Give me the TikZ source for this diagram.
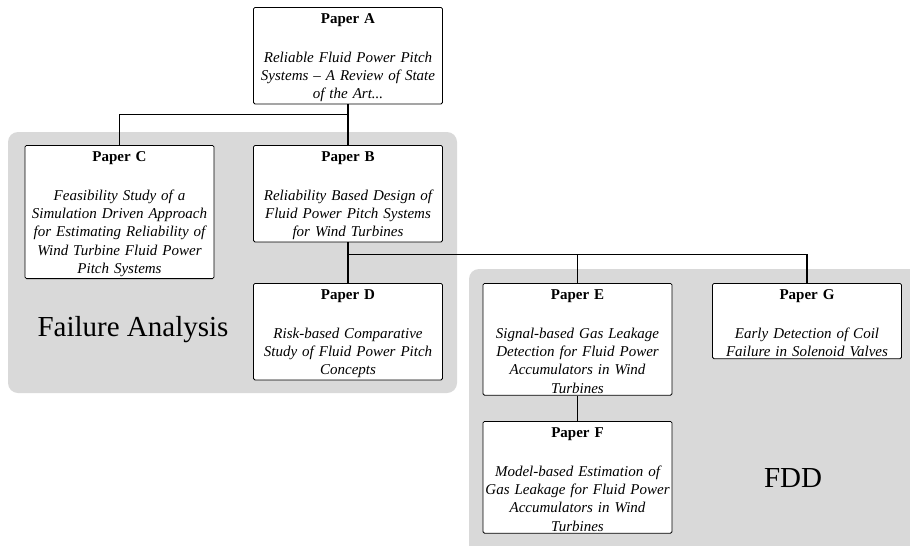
\documentclass[tikz,border=0pt]{standalone}
\usepackage{fontspec}
\setmainfont{Liberation Serif}
\begin{document}
\begin{tikzpicture}[x=1pt,y=-1pt,
   paper/.style={draw,fill=white,rounded corners=1.5pt,anchor=north,
     text width=185pt,align=center,inner xsep=2pt,inner ysep=2pt,line width=0.8pt,
     font=\fontsize{15}{18.3}\selectfont},
   group/.style={fill=gray!30,rounded corners=10pt},
   grouplabel/.style={font=\fontsize{29}{34}\selectfont},
   link/.style={line width=1.2pt}]
   \newcommand\papertitle[1]{\rule{0pt}{14.5pt}\textbf{Paper #1}\\[20pt]}
   \useasboundingbox (0,0) rectangle (910,546);
   \fill[group] (8,132) rectangle (457,393);
   \fill[group] (469,269) rectangle (925,560);
   \node[grouplabel] (fa) at (133,330) {Failure Analysis};
   \node[grouplabel] (fdd) at (793,478) {FDD};
   \node[paper] (A) at (348,7) {\papertitle{A}
     \textit{Reliable Fluid Power Pitch\\Systems -- A Review of State\\of the Art...}};
   \node[paper] (B) at (348,145) {\papertitle{B}
     \textit{Reliability Based Design of\\Fluid Power Pitch Systems\\for Wind Turbines}};
   \node[paper] (C) at (119.5,145) {\papertitle{C}
     \textit{Feasibility Study of a\\Simulation Driven Approach\\for Estimating Reliability of\\Wind Turbine Fluid Power\\Pitch Systems}};
   \node[paper] (D) at (348,283) {\papertitle{D}
     \textit{Risk-based Comparative\\Study of Fluid Power Pitch\\Concepts}};
   \node[paper] (E) at (577.5,283) {\papertitle{E}
     \textit{Signal-based Gas Leakage\\Detection for Fluid Power\\Accumulators in Wind\\Turbines}};
   \node[paper] (G) at (807,283) {\papertitle{G}
     \textit{Early Detection of Coil\\Failure in Solenoid Valves}};
   \node[paper] (F) at (577.5,421) {\papertitle{F}
     \textit{Model-based Estimation of\\Gas Leakage for Fluid Power\\Accumulators in Wind\\Turbines}};
   \foreach \a/\b in {A/B,B/D,E/F}
     \draw[link] (\a.south) -- (\b.north);
   \foreach \a/\b/\d in {A/C/10,B/E/12,B/G/12}
     \draw[link] (\a.south) -- ++(0,\d) -| (\b.north);
\end{tikzpicture}
\end{document}
